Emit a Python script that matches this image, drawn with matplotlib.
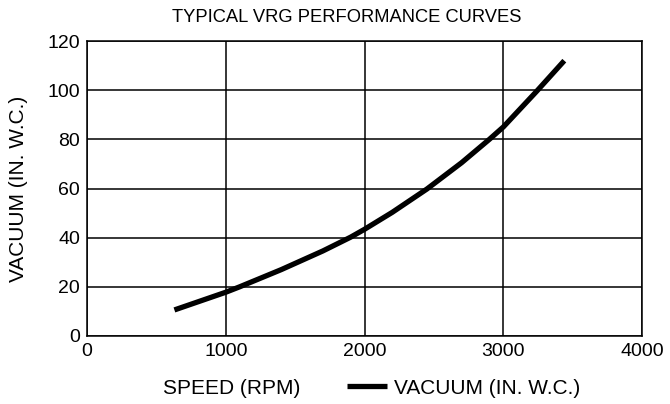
import matplotlib
matplotlib.use("Agg")
import matplotlib.pyplot as plt

plt.rcParams["font.family"] = ["Liberation Sans", "DejaVu Sans"]

speed_rpm = [630, 1000, 1100, 1400, 1700, 1900, 2000, 2200, 2450, 2700, 2900, 3000, 3240, 3440]
vacuum_inwc = [10.6, 17.8, 20, 27, 34.6, 40.2, 43.4, 50.3, 59.8, 70.5, 80, 85, 99.5, 112]

x_ticks = [0, 1000, 2000, 3000, 4000]
y_ticks = [0, 20, 40, 60, 80, 100, 120]

fig = plt.figure(figsize=(6.7, 4.04), dpi=100)
ax = fig.add_axes([87 / 670, 68 / 404, 555 / 670, 295 / 404])

ax.plot(speed_rpm, vacuum_inwc, color="black", lw=3.8, solid_capstyle="butt",
        solid_joinstyle="round", label="VACUUM (IN. W.C.)")
ax.set_xlim(0, 4000)
ax.set_ylim(0, 120)
ax.set_xticks(x_ticks)
ax.set_yticks(y_ticks)
ax.grid(True, color="black", lw=1.1)
ax.tick_params(length=0, labelsize=14, pad=5)
for s in ax.spines.values():
    s.set_linewidth(1.1)

# title sits a little left of the axes centre in the original
fig.text(347 / 670, 1 - 17 / 404, "TYPICAL VRG PERFORMANCE CURVES", fontsize=13.2,
         ha="center", va="center")
ax.set_ylabel("VACUUM (IN. W.C.)", fontsize=15)
ax.yaxis.set_label_coords(-(87 - 28) / 555, 0.5)

fig.text(163 / 670, 1 - 388 / 404, "SPEED (RPM)", fontsize=15, va="center", ha="left")
fig.legend(loc="center left", bbox_to_anchor=(347 / 670, 1 - 388 / 404), frameon=False,
           fontsize=15, handlelength=1.9, handletextpad=0.35, borderaxespad=0, borderpad=0)

fig.savefig("out.png", dpi=100)
